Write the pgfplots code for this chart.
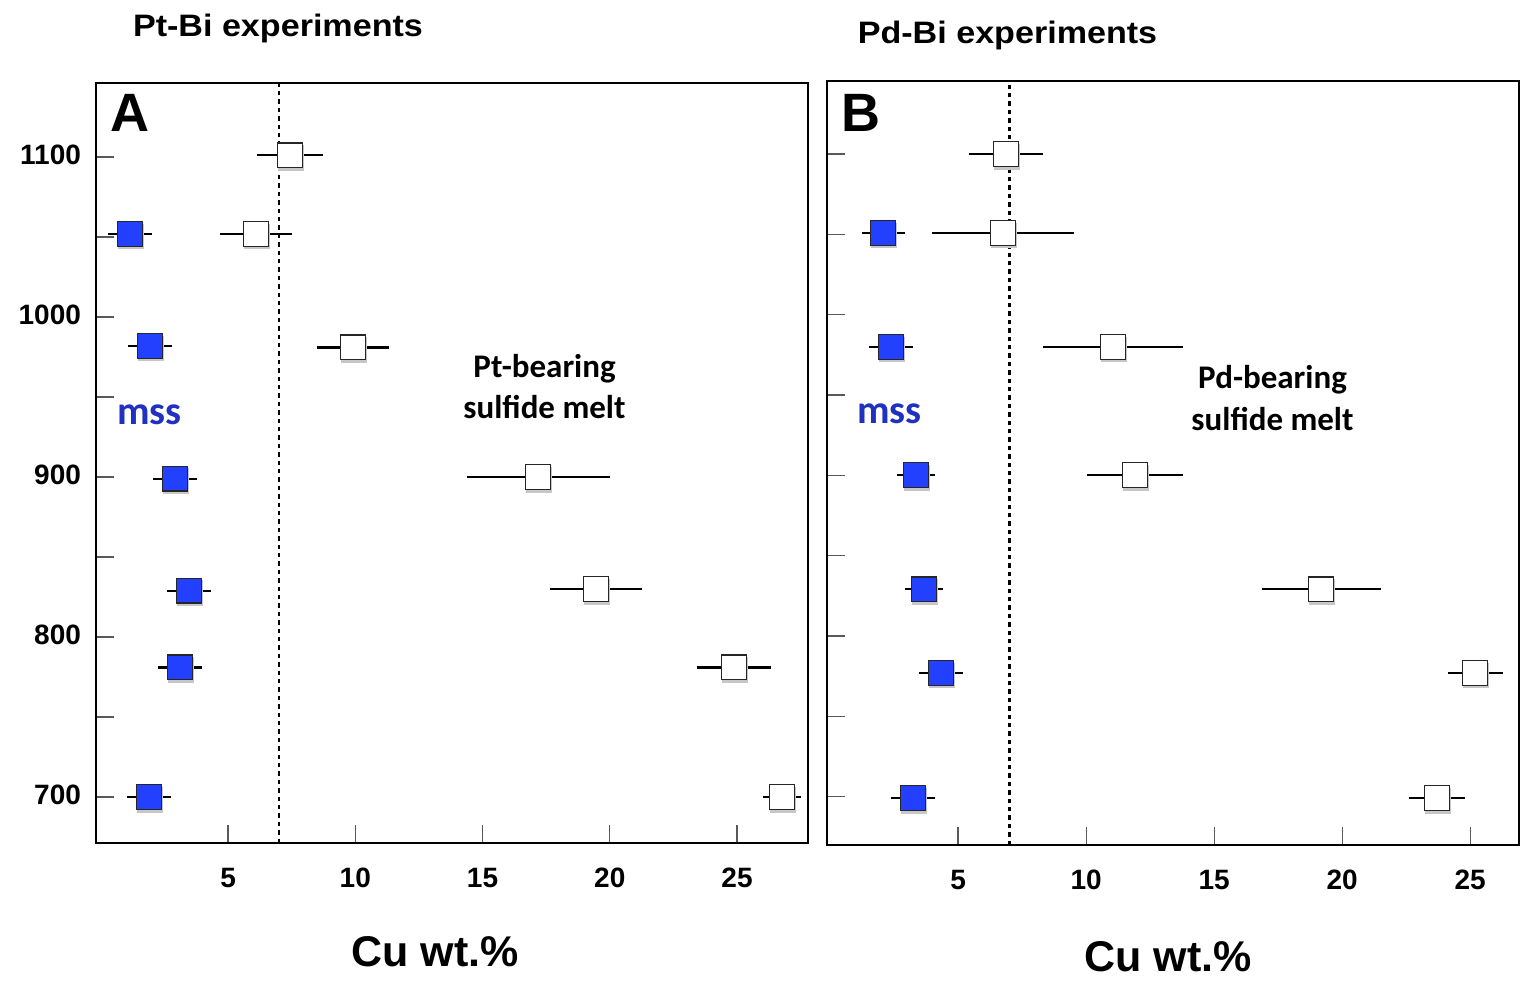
\documentclass[border=0pt]{standalone}
\usepackage{fontspec}
\setmainfont{Liberation Sans}
\newfontfamily\titlefont[FakeStretch=1.1]{Liberation Sans}
\newfontfamily\calfont{Carlito}
\usepackage{pgfplots}
\pgfplotsset{compat=1.18}
\usepackage{pgfplotstable}
\definecolor{mssfill}{RGB}{35,64,255}
\definecolor{msstext}{RGB}{32,48,192}

% Panel A (Pt-Bi)
\pgfplotstableread{
x y e
1.15 1052 0.86
1.94 982 0.86
2.92 899 0.86
3.47 829 0.86
3.11 781 0.86
1.90 700 0.86
}\mssA
\pgfplotstableread{
x y e
7.44 1101 1.30
6.10 1052 1.41
9.91 981 1.41
17.18 900 2.81
19.46 830 1.79
24.88 781 1.45
26.77 700 0.73
}\meltA
% Panel B (Pd-Bi)
\pgfplotstableread{
x y e
2.07 1051 0.84
2.38 980 0.86
3.36 900 0.74
3.67 829 0.74
4.34 777 0.86
3.24 699 0.86
}\mssB
\pgfplotstableread{
x y e
6.88 1100 1.45
6.76 1051 2.77
11.05 980 2.73
11.91 900 1.89
19.18 829 2.32
25.20 777 1.07
23.71 699 1.09
}\meltB

\pgfplotsset{
  panel/.style={
    scale only axis, anchor=south west,
    axis line style={line width=1.2pt},
    tick align=inside, xtick pos=left, ytick pos=left,
    xtick={5,10,15,20,25},
    ytick={700,800,900,1000,1100},
    minor ytick={750,850,950,1050},
    major tick length=9pt, minor tick length=9pt,
    every tick/.append style={black!65, line width=0.6pt},
    tick label style={font=\bfseries\fontsize{14}{16}\selectfont},
    /pgf/number format/assume math mode=true,
    /pgf/number format/1000 sep={},
    xticklabel style={yshift=-9pt},
    yticklabel style={xshift=-4pt, yshift=1pt},
  },
  ebar/.style={only marks, mark=none, black,
    error bars/.cd, x dir=both, x explicit, error mark=none,
    error bar style={line width=1.1pt, black}},
  shadow/.style={only marks, mark=square*, mark size=6.2pt,
    mark options={rounded corners=2.5pt, fill=black!22, draw=black!22, yshift=-1.3pt, xshift=0.3pt}},
  mss/.style={only marks, mark=square*, mark size=6.2pt,
    mark options={rounded corners=2.5pt, fill=mssfill, draw=black!85, line width=0.6pt}},
  melt/.style={only marks, mark=square*, mark size=6.2pt,
    mark options={rounded corners=2.5pt, fill=white, draw=black!85, line width=0.6pt}},
  vline/.style={black, line width=1.3pt, dash pattern=on 2.2pt off 2pt},
}

\begin{document}
\begin{tikzpicture}
\path[use as bounding box] (-48pt,-69.5pt) rectangle (714pt,421.5pt);

\begin{axis}[panel, at={(0pt,0pt)}, width=356pt, height=380pt,
  xmin=-0.19, xmax=27.79, ymin=671.25, ymax=1146.25]
  \addplot[vline] coordinates {(7,671.25) (7,1146.25)};
  \addplot[ebar] table[x=x, y=y, x error=e] {\mssA};
  \addplot[ebar] table[x=x, y=y, x error=e] {\meltA};
  \addplot[shadow] table[x=x, y=y] {\mssA};
  \addplot[shadow] table[x=x, y=y] {\meltA};
  \addplot[mss] table[x=x, y=y] {\mssA};
  \addplot[melt] table[x=x, y=y] {\meltA};
\end{axis}

\begin{axis}[panel, at={(365.5pt,-1pt)}, width=346pt, height=382pt,
  xmin=-0.12, xmax=26.91, ymin=669.8, ymax=1145.5, yticklabels={}]
  \addplot[vline] coordinates {(7,669.8) (7,1145.5)};
  \addplot[ebar] table[x=x, y=y, x error=e] {\mssB};
  \addplot[ebar] table[x=x, y=y, x error=e] {\meltB};
  \addplot[shadow] table[x=x, y=y] {\mssB};
  \addplot[shadow] table[x=x, y=y] {\meltB};
  \addplot[mss] table[x=x, y=y] {\mssB};
  \addplot[melt] table[x=x, y=y] {\meltB};
\end{axis}

% titles
\node[anchor=base, inner sep=0pt, font=\titlefont\bfseries\fontsize{15.5}{18}\selectfont] at (91pt,403.2pt) {Pt-Bi experiments};
\node[anchor=base, inner sep=0pt, font=\titlefont\bfseries\fontsize{15.5}{18}\selectfont] at (455.75pt,399.7pt) {Pd-Bi experiments};
% panel letters
\node[anchor=base west, inner sep=0pt, font=\bfseries\fontsize{27}{30}\selectfont] at (7pt,355.5pt) {A};
\node[anchor=base west, inner sep=0pt, font=\bfseries\fontsize{27}{30}\selectfont] at (372.5pt,355.6pt) {B};
% mss labels
\node[anchor=base west, inner sep=0pt, text=msstext, font=\calfont\bfseries\fontsize{20}{24}\selectfont] at (10.5pt,209.5pt) {mss};
\node[anchor=base west, inner sep=0pt, text=msstext, font=\calfont\bfseries\fontsize{20}{24}\selectfont] at (380.5pt,210pt) {mss};
% melt labels
\node[anchor=base, inner sep=0pt, font=\calfont\bfseries\fontsize{16.5}{20}\selectfont] at (224.25pt,233pt) {Pt-bearing};
\node[anchor=base, inner sep=0pt, font=\calfont\bfseries\fontsize{16.5}{20}\selectfont] at (224.25pt,212.5pt) {sulfide melt};
\node[anchor=base, inner sep=0pt, font=\calfont\bfseries\fontsize{16.5}{20}\selectfont] at (588.25pt,227.5pt) {Pd-bearing};
\node[anchor=base, inner sep=0pt, font=\calfont\bfseries\fontsize{16.5}{20}\selectfont] at (588.25pt,206.5pt) {sulfide melt};
% x labels
\node[anchor=base, inner sep=0pt, font=\bfseries\fontsize{21.5}{26}\selectfont] at (169.5pt,-61.8pt) {Cu wt.\%};
\node[anchor=base, inner sep=0pt, font=\bfseries\fontsize{21.5}{26}\selectfont] at (536pt,-64.3pt) {Cu wt.\%};
\end{tikzpicture}
\end{document}
